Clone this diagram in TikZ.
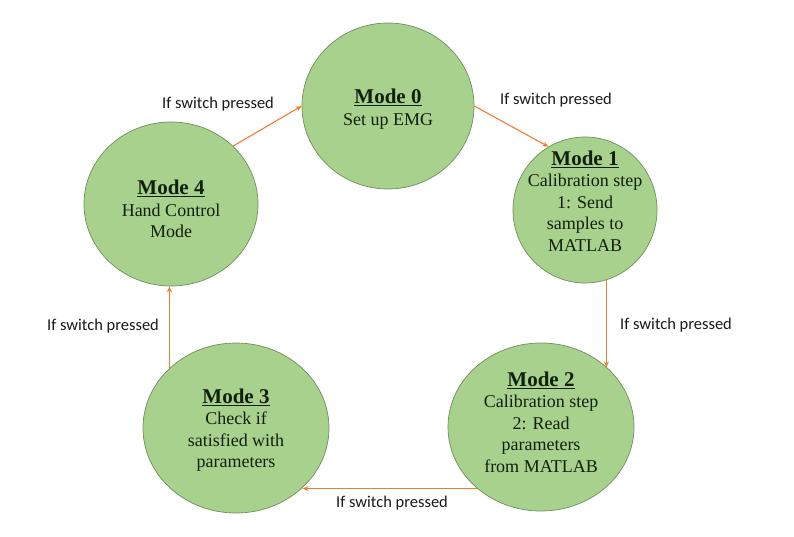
\documentclass[tikz,border=0pt]{standalone}
\usepackage{fontspec}
\setmainfont{Liberation Serif}
\newfontfamily\labfont{Carlito}
\usetikzlibrary{shapes.geometric,arrows.meta}
\definecolor{modefill}{HTML}{A9D18E}
\definecolor{modeedge}{HTML}{6F8E5C}
\definecolor{arrowc}{HTML}{ED7D31}
\definecolor{txt}{HTML}{10200A}
\newcommand{\modetitle}[1]{{\fontsize{21}{21.5}\selectfont\textbf{\underline{#1}}}}
\tikzset{
  modeshape/.style={ellipse, draw=modeedge, line width=0.7pt, fill=modefill, inner sep=0pt},
  modetext/.style={align=center, text=txt, font=\fontsize{18}{21.5}\selectfont, inner sep=0pt},
  trans/.style={draw=arrowc, line width=1.1pt, -{Stealth[length=6pt,width=5pt]}},
  translabel/.style={font=\labfont\fontsize{16.5}{18}\selectfont, text=black!90, inner sep=0pt}
}
\begin{document}
\begin{tikzpicture}[x=1pt,y=-1pt]
\useasboundingbox[fill=white] (0,0) rectangle (794,537);
% modes
\node[modeshape, minimum width=172pt, minimum height=166pt] (m0) at (388,106) {};
\node[modeshape, minimum width=144pt, minimum height=146pt] (m1) at (585,210) {};
\node[modeshape, minimum width=186pt, minimum height=168pt] (m2) at (541,427) {};
\node[modeshape, minimum width=186pt, minimum height=170pt] (m3) at (236,428) {};
\node[modeshape, minimum width=174pt, minimum height=164pt] (m4) at (171,204) {};
% texts
\node[modetext] (t0) at (388,109) {\modetitle{Mode 0}\\Set up EMG};
\node[modetext] (t1) at (585,201) {\modetitle{Mode 1}\\Calibration step\\1: Send\\samples to\\MATLAB};
\node[modetext] (t2) at (541,422) {\modetitle{Mode 2}\\Calibration step\\2: Read\\parameters\\from MATLAB};
\node[modetext] (t3) at (236,430) {\modetitle{Mode 3}\\Check if\\satisfied with\\parameters};
\node[modetext] (t4) at (171,209) {\modetitle{Mode 4}\\Hand Control\\Mode};
% transitions
\draw[trans] (m4.43) -- (m0.180);
\draw[trans] (m0.0) -- (m1.120);
\draw[trans] (m1.-73) -- (m1.-73 |- m2.42);
\draw[trans] (m2.-136) -- (m3.-42 |- m2.-136);
\draw[trans] (m3.138) -- (m3.138 |- m4.south);
% labels
\node[translabel] (l40) at (218,104) {If switch pressed};
\node[translabel] (l01) at (556,100) {If switch pressed};
\node[translabel] (l12) at (676,325) {If switch pressed};
\node[translabel] (l23) at (392,503) {If switch pressed};
\node[translabel] (l34) at (103,326) {If switch pressed};
\end{tikzpicture}
\end{document}
